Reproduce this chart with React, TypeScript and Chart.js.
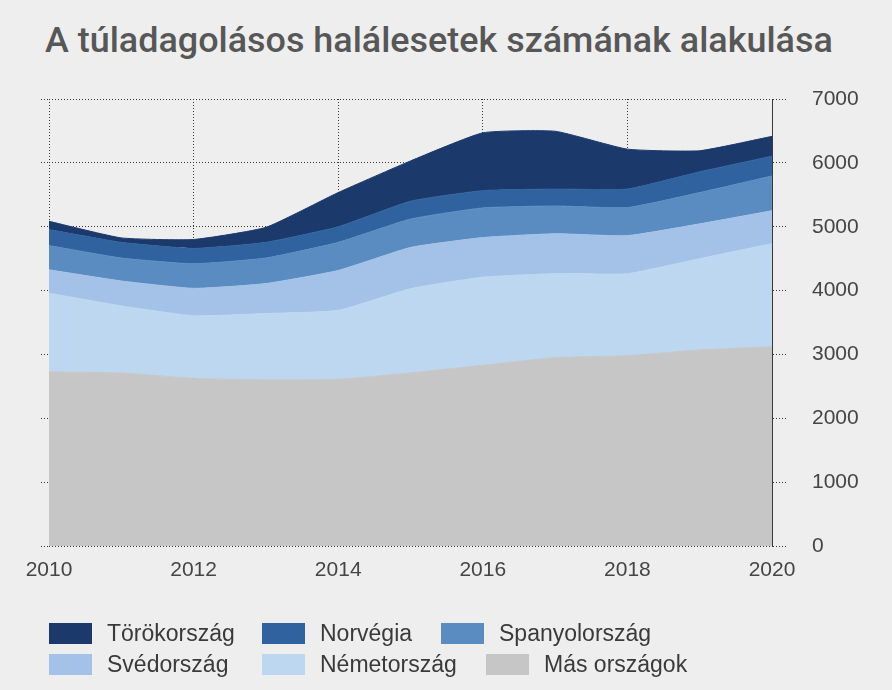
import React, { useEffect, useRef, useState } from "react";
import { Chart, registerables } from "chart.js";

Chart.register(...registerables);

// ---- data ----
const years = [2010, 2011, 2012, 2013, 2014, 2015, 2016, 2017, 2018, 2019, 2020];
const masOrszagok = [2725, 2710, 2625, 2600, 2610, 2710, 2830, 2950, 2980, 3070, 3120];
const nemetorszag = [1235, 1050, 980, 1040, 1080, 1320, 1380, 1315, 1285, 1430, 1615];
const svedorszag = [365, 390, 430, 470, 625, 645, 620, 625, 595, 545, 515];
const spanyolorszag = [380, 360, 385, 400, 440, 445, 465, 435, 440, 490, 545];
const norvegia = [250, 245, 240, 245, 245, 280, 270, 265, 290, 325, 310];
const torokorszag = [130, 70, 140, 235, 535, 630, 905, 905, 625, 330, 310];

const seriesNames = ["Más országok", "Németország", "Svédország", "Spanyolország", "Norvégia", "Törökország"];
const seriesValues = [masOrszagok, nemetorszag, svedorszag, spanyolorszag, norvegia, torokorszag];
const seriesColors = ["#c6c6c6", "#bdd7f1", "#a4c2e8", "#5b8cc1", "#30629f", "#1b3a6b"];

const yMin = 0;
const yMax = 7000;
const yStep = 1000;
const xStep = 2;

const titleText = "A túladagolásos halálesetek számának alakulása";
const legendRow1 = ["Törökország", "Norvégia", "Spanyolország"];
const legendRow2 = ["Svédország", "Németország", "Más országok"];

// ---- styles ----
const BG = "#eeeeee";
const GRID = "#3a3a3a";
const TICK = "#454545";
const FONT = "'Liberation Sans', Arial, sans-serif";

const colorOf = (name: string) => seriesColors[seriesNames.indexOf(name)];

export default function App() {
  const canvasRef = useRef<HTMLCanvasElement>(null);
  const titleRef = useRef<HTMLSpanElement>(null);
  const [titleSize, setTitleSize] = useState(36);

  useEffect(() => {
    document.body.style.margin = "0";
    document.body.style.background = BG;
    const el = titleRef.current;
    if (el) {
      const w = el.getBoundingClientRect().width;
      if (w > 0) setTitleSize((36 * 788) / w);
    }
  }, []);

  useEffect(() => {
    if (!canvasRef.current) return;
    const chart = new Chart(canvasRef.current, {
      type: "line",
      data: {
        labels: years,
        datasets: seriesNames.map((name, i) => ({
          label: name,
          data: seriesValues[i],
          backgroundColor: seriesColors[i],
          borderColor: seriesColors[i],
          borderWidth: 1,
          fill: i === 0 ? "origin" : "-1",
          pointRadius: 0,
          tension: 0.15,
          xAxisID: "x",
          yAxisID: "y",
        })),
      },
      options: {
        animation: false,
        responsive: false,
        maintainAspectRatio: false,
        layout: { padding: { top: 99, left: 0, right: 0, bottom: 0 } },
        plugins: {
          legend: { display: false },
          tooltip: { enabled: false },
          title: { display: false },
        },
        scales: {
          x: {
            type: "linear",
            min: years[0],
            max: years[years.length - 1],
            ticks: {
              stepSize: xStep,
              autoSkip: false,
              maxRotation: 0,
              callback: (v: any) => String(v),
              color: TICK,
              font: { family: FONT, size: 21 },
              padding: 12,
            },
            grid: { color: GRID, lineWidth: 1, drawTicks: false },
            border: { display: false, dash: [1, 2] },
            afterFit: (s: any) => {
              s.height = 144;
            },
          },
          y: {
            position: "right",
            stacked: true,
            min: yMin,
            max: yMax,
            ticks: {
              stepSize: yStep,
              callback: (v: any) => String(v),
              color: TICK,
              font: { family: FONT, size: 21 },
              padding: 25,
            },
            grid: {
              color: GRID,
              lineWidth: 1,
              tickLength: 15,
              tickColor: GRID,
              tickBorderDash: [1, 2],
            },
            border: { display: true, color: GRID, dash: [1, 2] },
            afterFit: (s: any) => {
              s.width = 120;
            },
          },
          yLeft: {
            position: "left",
            min: yMin,
            max: yMax,
            ticks: { display: false, stepSize: yStep },
            grid: {
              drawOnChartArea: false,
              tickLength: 8,
              tickColor: GRID,
              tickBorderDash: [1, 2],
            },
            border: { display: false },
            afterFit: (s: any) => {
              s.width = 49;
            },
          },
        },
      } as any,
    });
    return () => chart.destroy();
  }, []);

  const legendItem = (name: string, left: number, top: number) => (
    <div
      key={name}
      style={{
        position: "absolute",
        left,
        top,
        height: 22,
        display: "flex",
        alignItems: "center",
        whiteSpace: "nowrap",
      }}
    >
      <span style={{ display: "inline-block", width: 43, height: 21, background: colorOf(name) }} />
      <span style={{ marginLeft: 15, fontFamily: FONT, fontSize: 23, color: "#3a3a3a", lineHeight: "22px" }}>
        {name}
      </span>
    </div>
  );

  const row1Lefts = [49, 262, 441];
  const row2Lefts = [49, 262, 486];

  return (
    <div style={{ position: "relative", width: 892, height: 690, background: BG, overflow: "hidden" }}>
      <div
        style={{
          position: "absolute",
          left: 45,
          top: 22,
          lineHeight: "36px",
          whiteSpace: "nowrap",
        }}
      >
        <span
          ref={titleRef}
          style={{
            fontFamily: "Roboto, 'Liberation Sans', sans-serif",
            fontWeight: 500,
            fontSize: titleSize,
            color: "#575757",
          }}
        >
          {titleText}
        </span>
      </div>
      <canvas
        ref={canvasRef}
        width={892}
        height={690}
        style={{ position: "absolute", left: 0, top: 0, width: 892, height: 690 }}
      />
      {legendRow1.map((n, i) => legendItem(n, row1Lefts[i], 622))}
      {legendRow2.map((n, i) => legendItem(n, row2Lefts[i], 653))}
    </div>
  );
}
